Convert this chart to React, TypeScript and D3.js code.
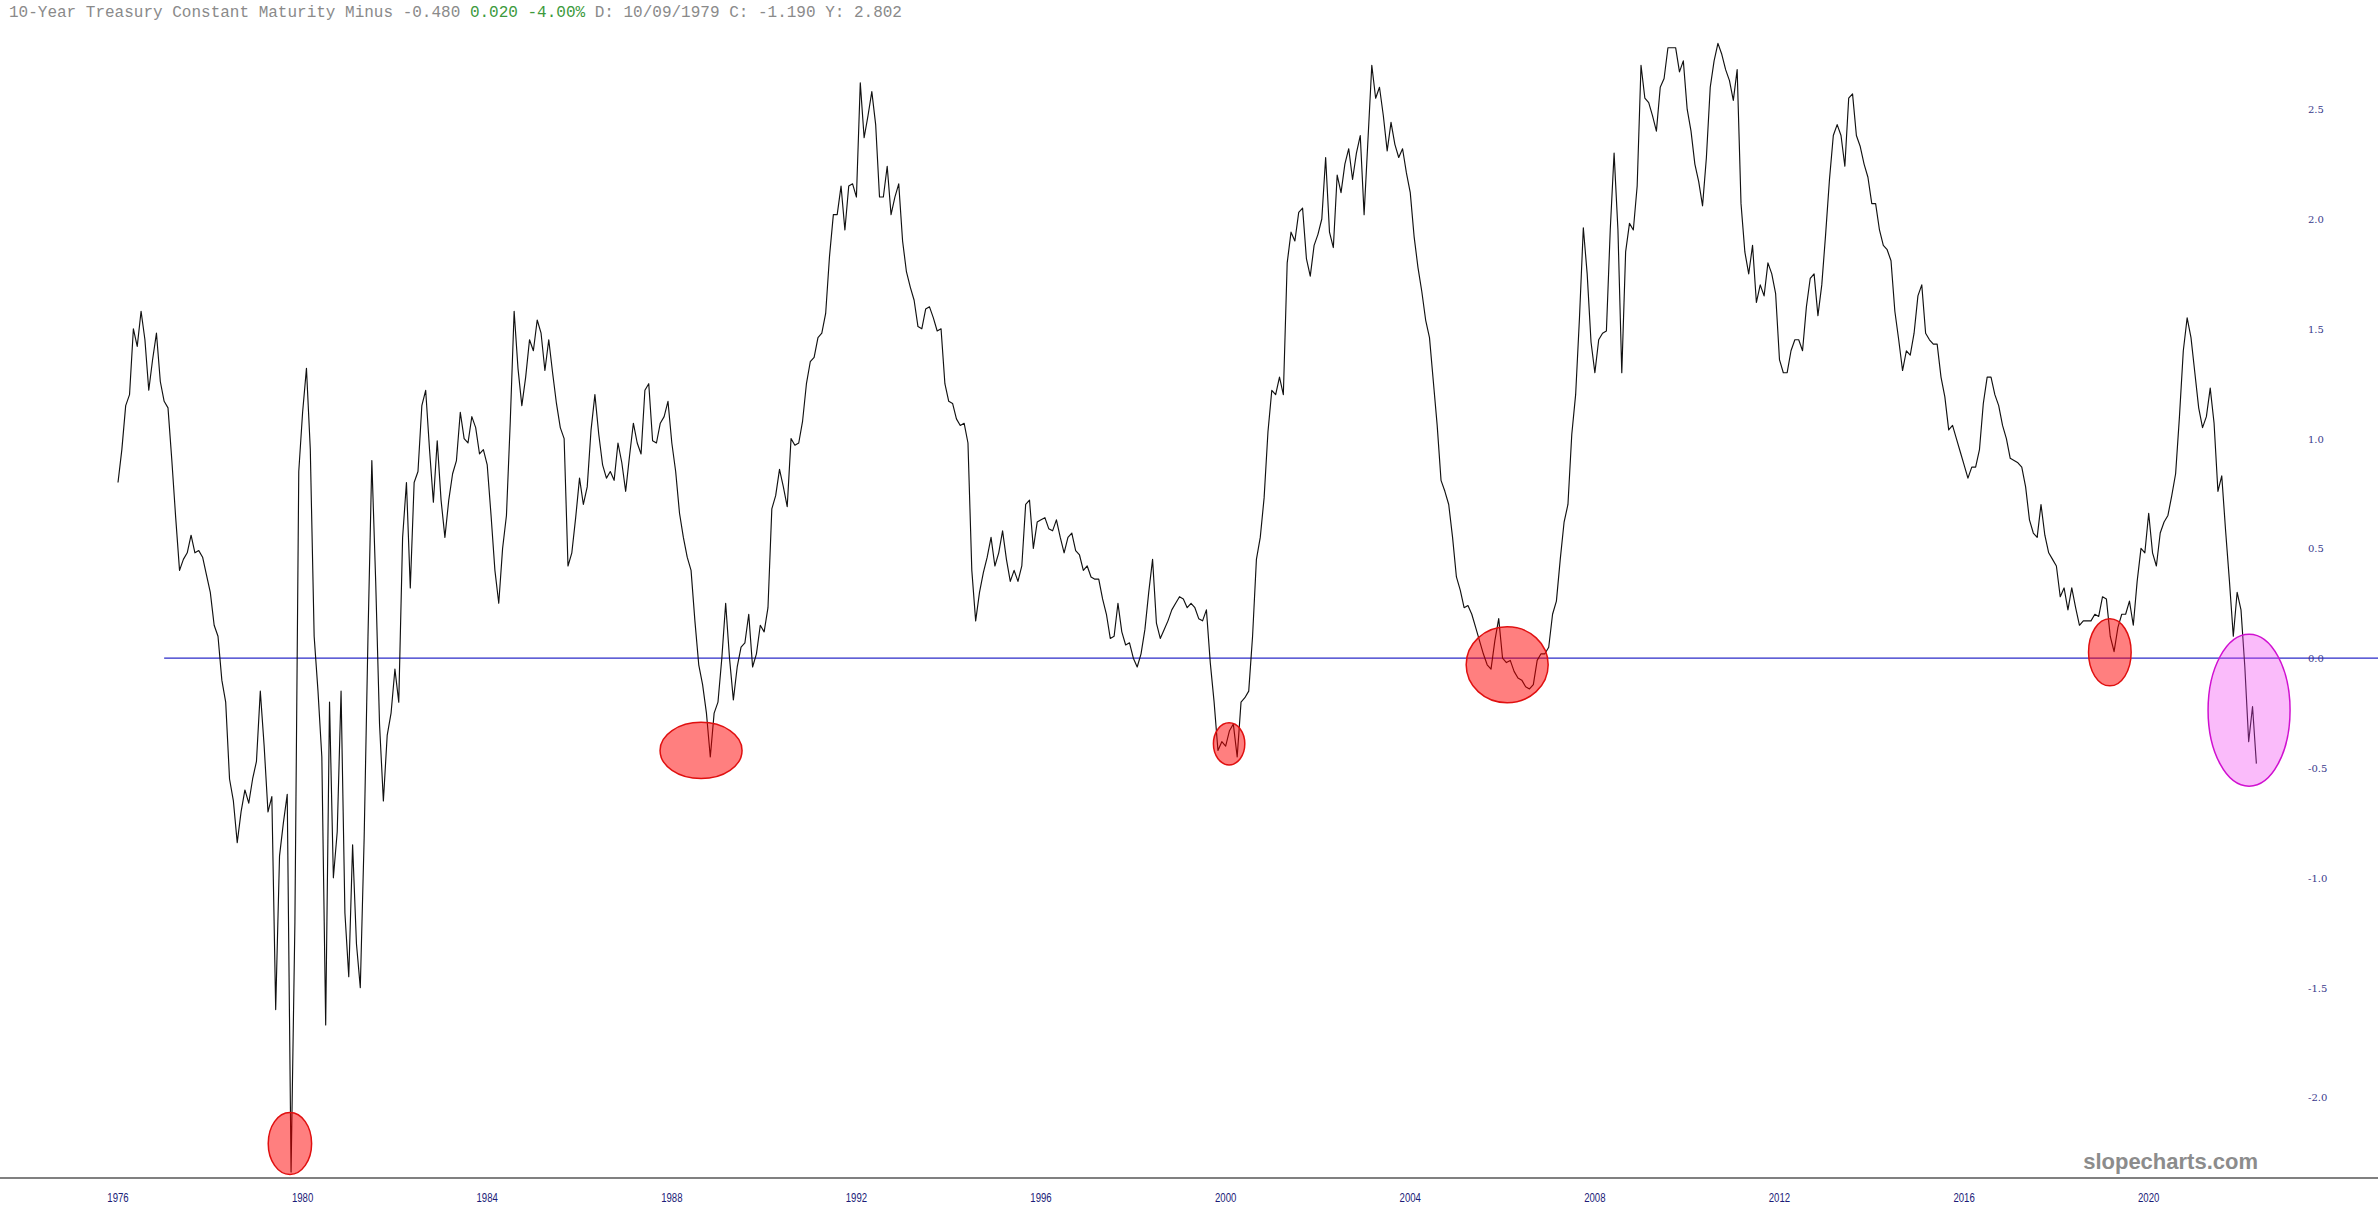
import React, { useEffect } from "react";
import * as d3 from "d3";

// Monthly 10Y-2Y Treasury spread, first value = June 1976
const seriesStart = { year: 1976, month: 5 };
const spread: number[] = [
  0.80, 0.95, 1.15, 1.20, 1.50, 1.42, 1.58, 1.45, 1.22, 1.36, 1.48, 1.26,
  1.17, 1.14, 0.90, 0.64, 0.40, 0.45, 0.48, 0.56, 0.48, 0.49, 0.46, 0.38,
  0.30, 0.15, 0.10, -0.10, -0.20, -0.55, -0.65, -0.84, -0.70, -0.60, -0.66, -0.55,
  -0.47, -0.15, -0.40, -0.70, -0.63, -1.60, -0.90, -0.75, -0.62, -2.34, -1.20, 0.85,
  1.12, 1.32, 0.95, 0.10, -0.15, -0.45, -1.67, -0.20, -1.00, -0.79, -0.15, -1.16,
  -1.45, -0.85, -1.30, -1.50, -0.82, 0.10, 0.90, 0.35, -0.30, -0.65, -0.35, -0.25,
  -0.05, -0.20, 0.55, 0.80, 0.32, 0.80, 0.85, 1.15, 1.22, 0.95, 0.71, 0.99,
  0.72, 0.55, 0.72, 0.84, 0.90, 1.12, 1.00, 0.98, 1.10, 1.05, 0.93, 0.95,
  0.88, 0.65, 0.40, 0.25, 0.50, 0.65, 1.08, 1.58, 1.32, 1.15, 1.28, 1.45,
  1.40, 1.54, 1.48, 1.31, 1.45, 1.30, 1.16, 1.05, 1.00, 0.42, 0.48, 0.64,
  0.82, 0.70, 0.78, 1.04, 1.20, 1.02, 0.88, 0.82, 0.85, 0.81, 0.98, 0.89,
  0.76, 0.92, 1.07, 0.98, 0.93, 1.22, 1.25, 0.99, 0.98, 1.07, 1.10, 1.17,
  0.98, 0.85, 0.66, 0.55, 0.46, 0.40, 0.17, -0.03, -0.12, -0.25, -0.45, -0.25,
  -0.20, 0.00, 0.25, 0.00, -0.19, -0.04, 0.05, 0.07, 0.20, -0.04, 0.02, 0.15,
  0.12, 0.23, 0.68, 0.74, 0.86, 0.78, 0.69, 1.00, 0.97, 0.98, 1.08, 1.25,
  1.35, 1.37, 1.46, 1.48, 1.57, 1.83, 2.02, 2.02, 2.15, 1.95, 2.15, 2.16,
  2.10, 2.62, 2.37, 2.47, 2.58, 2.43, 2.10, 2.10, 2.24, 2.02, 2.10, 2.16,
  1.90, 1.76, 1.69, 1.63, 1.51, 1.50, 1.59, 1.60, 1.55, 1.49, 1.50, 1.25,
  1.17, 1.16, 1.09, 1.06, 1.07, 0.98, 0.40, 0.17, 0.30, 0.39, 0.46, 0.55,
  0.42, 0.48, 0.58, 0.45, 0.35, 0.40, 0.35, 0.42, 0.70, 0.72, 0.50, 0.62,
  0.63, 0.64, 0.59, 0.58, 0.63, 0.55, 0.48, 0.55, 0.57, 0.49, 0.47, 0.40,
  0.42, 0.37, 0.36, 0.36, 0.27, 0.20, 0.09, 0.10, 0.25, 0.12, 0.06, 0.07,
  0.00, -0.04, 0.02, 0.13, 0.30, 0.45, 0.16, 0.09, 0.13, 0.17, 0.22, 0.25,
  0.28, 0.27, 0.23, 0.25, 0.23, 0.18, 0.17, 0.22, -0.02, -0.20, -0.42, -0.38,
  -0.40, -0.33, -0.30, -0.45, -0.20, -0.18, -0.15, 0.10, 0.45, 0.55, 0.73, 1.03,
  1.22, 1.20, 1.28, 1.20, 1.80, 1.94, 1.90, 2.03, 2.05, 1.82, 1.74, 1.88,
  1.93, 2.00, 2.28, 1.94, 1.87, 2.20, 2.12, 2.25, 2.32, 2.18, 2.30, 2.38,
  2.02, 2.36, 2.70, 2.55, 2.60, 2.47, 2.31, 2.44, 2.34, 2.28, 2.32, 2.21,
  2.12, 1.92, 1.78, 1.67, 1.54, 1.46, 1.26, 1.06, 0.81, 0.76, 0.70, 0.55,
  0.37, 0.31, 0.23, 0.24, 0.20, 0.14, 0.08, 0.02, -0.03, -0.05, 0.08, 0.18,
  0.00, -0.02, -0.01, -0.06, -0.09, -0.10, -0.13, -0.14, -0.12, -0.01, 0.02, 0.02,
  0.05, 0.20, 0.26, 0.45, 0.62, 0.70, 1.02, 1.20, 1.55, 1.96, 1.75, 1.44,
  1.30, 1.45, 1.48, 1.49, 1.95, 2.30, 1.95, 1.30, 1.85, 1.98, 1.95, 2.15,
  2.70, 2.55, 2.53, 2.47, 2.40, 2.60, 2.64, 2.78, 2.78, 2.78, 2.67, 2.72,
  2.50, 2.40, 2.25, 2.17, 2.06, 2.28, 2.60, 2.72, 2.80, 2.75, 2.68, 2.63,
  2.54, 2.68, 2.07, 1.85, 1.75, 1.88, 1.62, 1.70, 1.65, 1.80, 1.75, 1.66,
  1.36, 1.30, 1.30, 1.40, 1.45, 1.45, 1.40, 1.60, 1.73, 1.75, 1.56, 1.70,
  1.93, 2.18, 2.38, 2.43, 2.38, 2.24, 2.55, 2.57, 2.38, 2.33, 2.25, 2.19,
  2.07, 2.07, 1.95, 1.88, 1.86, 1.81, 1.58, 1.45, 1.31, 1.40, 1.38, 1.48,
  1.65, 1.70, 1.48, 1.45, 1.43, 1.43, 1.28, 1.19, 1.04, 1.06, 1.00, 0.94,
  0.88, 0.82, 0.87, 0.87, 0.95, 1.16, 1.28, 1.28, 1.20, 1.15, 1.06, 1.00,
  0.91, 0.90, 0.89, 0.87, 0.78, 0.63, 0.57, 0.55, 0.70, 0.56, 0.48, 0.45,
  0.42, 0.28, 0.32, 0.22, 0.32, 0.23, 0.15, 0.17, 0.17, 0.17, 0.20, 0.19,
  0.28, 0.27, 0.10, 0.03, 0.14, 0.20, 0.20, 0.26, 0.15, 0.35, 0.50, 0.48,
  0.66, 0.48, 0.42, 0.57, 0.62, 0.65, 0.74, 0.84, 1.10, 1.40, 1.55, 1.46,
  1.30, 1.14, 1.05, 1.10, 1.23, 1.07, 0.76, 0.83, 0.58, 0.35, 0.10, 0.30,
  0.22, -0.04, -0.38, -0.22, -0.48,
];

const xTickYears = [1976, 1980, 1984, 1988, 1992, 1996, 2000, 2004, 2008, 2012, 2016, 2020];
const yTickValues = [2.5, 2.0, 1.5, 1.0, 0.5, 0.0, -0.5, -1.0, -1.5, -2.0];

// Highlight ellipses: center month index (from series start), center value, radii in months / value units
const ellipseMonth = [44.7, 151.6, 288.9, 361.2, 517.9, 554.1];
const ellipseValue = [-2.21, -0.42, -0.39, -0.03, 0.027, -0.237];
const ellipseRxMonths = [5.64, 10.66, 4.08, 10.66, 5.54, 10.66];
const ellipseRyValue = [0.141, 0.128, 0.096, 0.173, 0.153, 0.346];
const ellipseKind = ["red", "red", "red", "red", "red", "magenta"];

const zeroLineStartMonth = 12;

const titleMain = "10-Year Treasury Constant Maturity Minus -0.480 ";
const titleChange = "0.020 -4.00% ";
const titleTail = "D: 10/09/1979 C: -1.190 Y: 2.802";

const W = 2378;
const H = 1218;

export default function App() {
  useEffect(() => {
    document.body.style.margin = "0";
    document.body.style.background = "#fff";
  }, []);

  const x = d3.scaleLinear().domain([0, 556]).range([118, 118 + 556 * 3.846]);
  const y = d3.scaleLinear().domain([-2, 2.5]).range([1097.4, 109.2]);

  const line = d3
    .line<number>()
    .x((_, i) => x(i))
    .y((d) => y(d))
    .curve(d3.curveLinear);

  const monthOfYear = (yr: number) => (yr - seriesStart.year) * 12;

  return (
    <svg
      width={W}
      height={H}
      style={{ position: "absolute", left: 0, top: 0, background: "#fff" }}
    >
      <rect x={0} y={0} width={W} height={H} fill="#ffffff" />
      {/* title */}
      <text x={9} y={17} fontFamily="'Liberation Mono', monospace" fontSize={16} fill="#8a8a8a">
        <tspan>{titleMain}</tspan>
        <tspan fill="#3c9a3c">{titleChange}</tspan>
        <tspan>{titleTail}</tspan>
      </text>

      {/* zero line */}
      <line
        x1={x(zeroLineStartMonth)}
        x2={W}
        y1={y(0)}
        y2={y(0)}
        stroke="#2b2bc8"
        strokeWidth={1.2}
      />

      {/* series */}
      <path d={line(spread) || ""} fill="none" stroke="#111" strokeWidth={1.15} strokeLinejoin="round" />

      {/* highlight ellipses */}
      {ellipseMonth.map((m, k) => {
        const cx = x(m);
        const cy = y(ellipseValue[k]);
        const rx = x(m + ellipseRxMonths[k]) - cx;
        const ry = y(ellipseValue[k] - ellipseRyValue[k]) - cy;
        const red = ellipseKind[k] === "red";
        return (
          <ellipse
            key={k}
            cx={cx}
            cy={cy}
            rx={rx}
            ry={ry}
            fill={red ? "rgba(255,0,0,0.5)" : "rgba(240,60,240,0.35)"}
            stroke={red ? "#e01010" : "#d010d0"}
            strokeWidth={1.5}
          />
        );
      })}

      {/* bottom axis line */}
      <line x1={0} x2={W} y1={1178} y2={1178} stroke="#808080" strokeWidth={2} />

      {/* x tick labels */}
      {xTickYears.map((yr) => (
        <text
          key={yr}
          x={x(monthOfYear(yr))}
          y={1202}
          textAnchor="middle"
          fontFamily="'Liberation Sans Narrow', 'Liberation Sans', sans-serif"
          fontSize={12}
          fill="#1c1c78"
          transform={`translate(${x(monthOfYear(yr))},0) scale(0.8,1) translate(${-x(monthOfYear(yr))},0)`}
        >
          {yr}
        </text>
      ))}

      {/* y tick labels */}
      {yTickValues.map((v) => (
        <text
          key={v}
          x={2308}
          y={y(v) + 4}
          fontFamily="'DejaVu Serif', serif"
          fontSize={10}
          fill="#3a3a8c"
        >
          {v.toFixed(1)}
        </text>
      ))}

      {/* watermark */}
      <text
        x={2258}
        y={1169}
        textAnchor="end"
        fontFamily="'Liberation Sans', Arial, sans-serif"
        fontWeight="bold"
        fontSize={22}
        fill="#8c8c8c"
      >
        slopecharts.com
      </text>
    </svg>
  );
}
